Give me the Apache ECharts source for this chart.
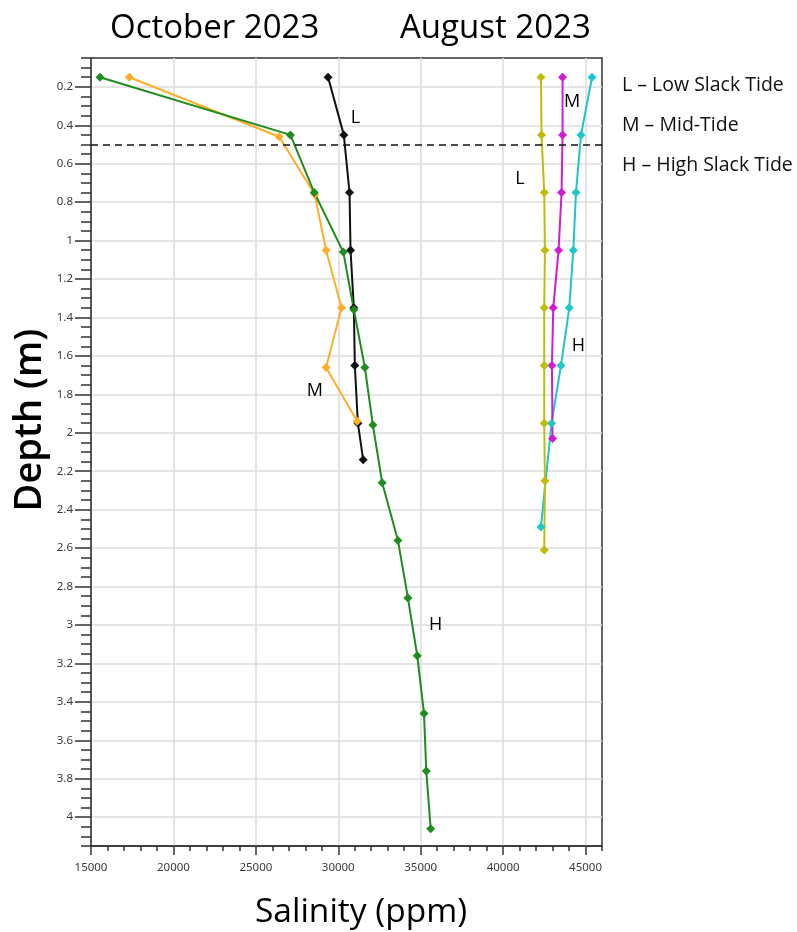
<!DOCTYPE html>
<html>
<head>
<meta charset="utf-8">
<script src="https://cdn.jsdelivr.net/npm/echarts@6/dist/echarts.min.js"></script>
<style>html,body{margin:0;padding:0;background:#fff;}#c{width:797px;height:932px;}</style>
</head>
<body>
<div id="c"></div>
<script>
// ---- data ----
const xTicks = [15000, 20000, 25000, 30000, 35000, 40000, 45000];
const yTicks = [0.2, 0.4, 0.6, 0.8, 1, 1.2, 1.4, 1.6, 1.8, 2, 2.2, 2.4, 2.6, 2.8, 3, 3.2, 3.4, 3.6, 3.8, 4];

const octLowSal   = [29383, 30337, 30684, 30745, 30945, 31006, 31189, 31511];
const octLowDep   = [0.15, 0.45, 0.75, 1.05, 1.35, 1.65, 1.95, 2.14];
const octMidSal   = [17328, 26416, 28574, 29261, 30198, 29261, 31146];
const octMidDep   = [0.15, 0.46, 0.76, 1.05, 1.35, 1.66, 1.94];
const octHighSal  = [15547, 27097, 28544, 30307, 30945, 31614, 32100, 32666, 33620, 34228, 34793, 35201, 35340, 35608];
const octHighDep  = [0.15, 0.45, 0.75, 1.06, 1.36, 1.66, 1.96, 2.26, 2.56, 2.86, 3.16, 3.46, 3.76, 4.06];

const augLowSal   = [42295, 42331, 42495, 42538, 42495, 42495, 42495, 42538, 42495];
const augLowDep   = [0.15, 0.45, 0.75, 1.05, 1.35, 1.65, 1.95, 2.25, 2.61];
const augMidSal   = [43608, 43608, 43547, 43365, 43043, 42964, 43000];
const augMidDep   = [0.15, 0.45, 0.75, 1.05, 1.35, 1.65, 2.03];
const augHighSal  = [45395, 44726, 44422, 44258, 44015, 43511, 42939, 42295];
const augHighDep  = [0.15, 0.45, 0.75, 1.05, 1.35, 1.65, 1.95, 2.49];

const annoText = ['L', 'M', 'H', 'M', 'L', 'H'];
const annoSal  = [31050, 28575, 35910, 44180, 41020, 44560];
const annoDep  = [0.36, 1.78, 3.0, 0.28, 0.68, 1.55];

const legendLines = ['L \u2013 Low Slack Tide', 'M \u2013 Mid-Tide', 'H \u2013 High Slack Tide'];
const dashedDepth = 0.5;

// ---- build ----
function pairs(xs, ys) { return xs.map((x, i) => [x, ys[i]]); }
const FONT = 'Open Sans';

function lineSeries(name, xs, ys, color, extra) {
  return Object.assign({
    name: name, type: 'line', data: pairs(xs, ys),
    symbol: 'diamond', symbolSize: 9, showSymbol: true,
    lineStyle: { color: color, width: 2 },
    itemStyle: { color: color },
    animation: false, z: 3
  }, extra || {});
}

const chart = echarts.init(document.getElementById('c'), null, { renderer: 'canvas' });

const option = {
  animation: false,
  backgroundColor: '#fff',
  grid: { left: 91, right: 195, top: 58, bottom: 86, show: true, borderColor: '#333', borderWidth: 1.5, backgroundColor: 'transparent' },
  xAxis: [{
    type: 'value', min: 15000, max: 46000, interval: 5000,
    axisLine: { show: true, lineStyle: { color: '#333', width: 1.5 } },
    axisTick: { show: true, length: 9, lineStyle: { color: '#333', width: 1.5 }, customValues: xTicks },
    axisLabel: { customValues: xTicks, formatter: v => String(v), color: '#3a3a3a', fontSize: 11.5, fontFamily: 'Noto Sans', margin: 16 },
    splitLine: { show: true, lineStyle: { color: '#dcdcdc', width: 1.5 } }
  }, {
    type: 'value', min: 15000, max: 46000, interval: 1000, position: 'bottom', gridIndex: 0,
    axisLine: { show: false },
    axisTick: { show: true, length: 5, lineStyle: { color: '#333', width: 1.5 } },
    axisLabel: { show: false },
    splitLine: { show: false }
  }],
  yAxis: [{
    type: 'value', min: 0.05, max: 4.15, inverse: true,
    axisLine: { show: true, lineStyle: { color: '#333', width: 1.5 } },
    axisTick: { show: true, length: 16, lineStyle: { color: '#333', width: 1.5 }, customValues: yTicks },
    axisLabel: { customValues: yTicks, color: '#3a3a3a', fontSize: 11.5, fontFamily: 'Noto Sans', margin: 18 },
    splitLine: { show: true, lineStyle: { color: '#dcdcdc', width: 1.5 } }
  }, {
    type: 'value', min: 0.05, max: 4.15, interval: 0.05, inverse: true, position: 'left', offset: 0,
    axisLine: { show: false },
    axisTick: { show: true, length: 10, lineStyle: { color: '#333', width: 1.5 } },
    axisLabel: { show: false },
    splitLine: { show: false }
  }],
  series: [
    lineSeries('Oct Low', octLowSal, octLowDep, '#111111', {
      markLine: {
        silent: true, symbol: 'none', label: { show: false },
        lineStyle: { color: '#111', width: 1.5, type: [7, 5] },
        data: [{ yAxis: dashedDepth }]
      }
    }),
    lineSeries('Oct Mid', octMidSal, octMidDep, '#FFAE2B'),
    lineSeries('Oct High', octHighSal, octHighDep, '#1E8C1E'),
    lineSeries('Aug High', augHighSal, augHighDep, '#1FC6C9'),
    lineSeries('Aug Mid', augMidSal, augMidDep, '#D21BD2'),
    lineSeries('Aug Low', augLowSal, augLowDep, '#BEBE0A'),
    {
      type: 'scatter', name: 'labels', symbol: 'circle', symbolSize: 1,
      itemStyle: { color: 'rgba(255,255,255,0)', opacity: 1 },
      data: annoText.map((t, i) => ({ value: [annoSal[i], annoDep[i]], name: t })),
      label: { show: true, position: 'inside', formatter: p => p.name, color: '#000', fontSize: 18, fontWeight: 500, fontFamily: FONT, textBorderWidth: 0 },
      z: 5, silent: true
    }
  ],
  graphic: [
    { type: 'text', left: 110, top: 12, style: { text: 'October 2023', fontSize: 33, fontWeight: 500, fontFamily: FONT, fill: '#000' } },
    { type: 'text', left: 400, top: 12, style: { text: 'August 2023', fontSize: 33, fontWeight: 500, fontFamily: FONT, fill: '#000' } },
    { type: 'text', x: 361, y: 912, style: { text: 'Salinity (ppm)', fontSize: 33.5, fontFamily: FONT, fill: '#000', align: 'center', verticalAlign: 'middle' } },
    { type: 'text', x: 30, y: 420, rotation: Math.PI / 2, style: { text: 'Depth (m)', fontSize: 38, fontWeight: 600, fontFamily: FONT, fill: '#000', align: 'center', verticalAlign: 'middle' } },
  ].concat(legendLines.map((t, i) => ({
    type: 'text', x: 622, y: 85 + i * 40, style: { text: t, fontSize: 19.5, fontFamily: FONT, fill: '#111', align: 'left', verticalAlign: 'middle' }
  })))
};
chart.setOption(option);
</script>
</body>
</html>
